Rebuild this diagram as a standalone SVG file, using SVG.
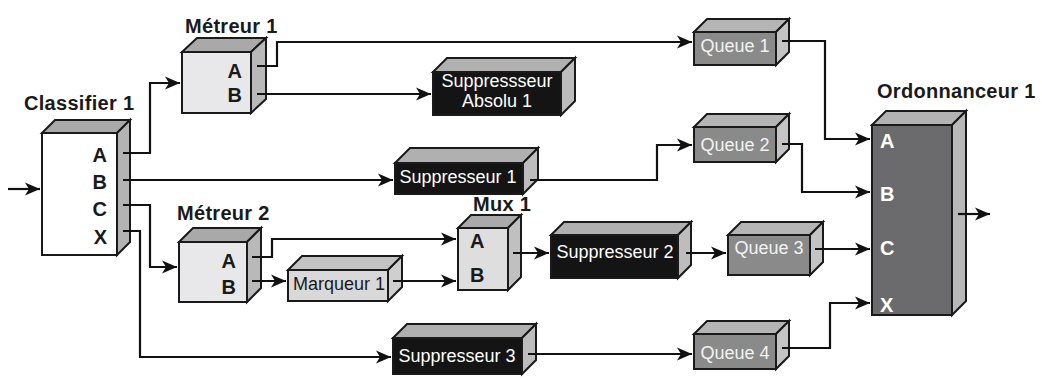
<svg xmlns="http://www.w3.org/2000/svg" width="1042" height="380" viewBox="0 0 1042 380">
<defs>
<marker id="arr" markerUnits="userSpaceOnUse" markerWidth="16" markerHeight="14" refX="15" refY="7" orient="auto">
<path d="M0,0.5 L15,7 L0,13.5 L4,7 z" fill="#111"/>
</marker>
<style>
.f{stroke:#1a1a1a;stroke-width:2;stroke-linejoin:miter}
.c{fill:none;stroke:#111;stroke-width:2.2;marker-end:url(#arr)}
.t{font-family:"Liberation Sans",Arial,sans-serif;font-weight:bold;font-size:20px;fill:#1a1a1a;letter-spacing:0.3px}
.p{font-family:"Liberation Sans",Arial,sans-serif;font-weight:bold;font-size:20px;fill:#1a1a1a}
.pw{font-family:"Liberation Sans",Arial,sans-serif;font-weight:bold;font-size:20px;fill:#ffffff}
.n{font-family:"Liberation Sans",Arial,sans-serif;font-size:18px;text-anchor:middle}
.wt{fill:#ffffff}
.gt{fill:#f2f2f2}
.dt{fill:#1a1a1a}
</style>
</defs>
<rect width="1042" height="380" fill="#ffffff"/>

<g id="classifier1">
<polygon class="f" fill="#ffffff" points="42,133 117,133 117,255 42,255"/>
<polygon class="f" fill="#a9a9a9" points="42,133 55,120 130,120 117,133"/>
<polygon class="f" fill="#b3b3b3" points="117,133 130,120 130,242 117,255"/>
<text class="t" x="24" y="110">Classifier 1</text>
<text class="p" x="107" y="162" text-anchor="end">A</text>
<text class="p" x="107" y="189" text-anchor="end">B</text>
<text class="p" x="107" y="216" text-anchor="end">C</text>
<text class="p" x="107" y="244" text-anchor="end">X</text>
</g>

<g id="metreur1">
<polygon class="f" fill="#e8e8ea" points="182,52 251,52 251,113 182,113"/>
<polygon class="f" fill="#a9a9a9" points="182,52 197,38 266,38 251,52"/>
<polygon class="f" fill="#b9b9b9" points="251,52 266,38 266,99 251,113"/>
<text class="t" x="185" y="33">Métreur 1</text>
<text class="p" x="242" y="78" text-anchor="end">A</text>
<text class="p" x="242" y="102" text-anchor="end">B</text>
</g>

<g id="suppresseurAbsolu1">
<polygon class="f" fill="#141414" points="433,72 561,72 561,115 433,115"/>
<polygon class="f" fill="#b0b0b0" points="433,72 447,58 575,58 561,72"/>
<polygon class="f" fill="#bdbdbd" points="561,72 575,58 575,101 561,115"/>
<text class="n wt" x="497" y="87">Suppressseur</text>
<text class="n wt" x="497" y="107">Absolu 1</text>
</g>

<g id="suppresseur1">
<polygon class="f" fill="#141414" points="395,163 523,163 523,194 395,194"/>
<polygon class="f" fill="#b0b0b0" points="395,163 410,148 538,148 523,163"/>
<polygon class="f" fill="#bdbdbd" points="523,163 538,148 538,179 523,194"/>
<text class="n wt" x="458" y="183">Suppresseur 1</text>
</g>

<g id="metreur2">
<polygon class="f" fill="#e8e8ea" points="179,242 247,242 247,302 179,302"/>
<polygon class="f" fill="#a9a9a9" points="179,242 193,228 261,228 247,242"/>
<polygon class="f" fill="#b9b9b9" points="247,242 261,228 261,288 247,302"/>
<text class="t" x="177" y="220">Métreur 2</text>
<text class="p" x="236" y="268" text-anchor="end">A</text>
<text class="p" x="236" y="294" text-anchor="end">B</text>
</g>

<g id="marqueur1">
<polygon class="f" fill="#d9d9d9" points="288,270 388,270 388,301 288,301"/>
<polygon class="f" fill="#c3c3c3" points="288,270 302,256 402,256 388,270"/>
<polygon class="f" fill="#cfcfcf" points="388,270 402,256 402,287 388,301"/>
<text class="n dt" x="339" y="290">Marqueur 1</text>
</g>

<g id="mux1">
<polygon class="f" fill="#dedede" points="458,228 508,228 508,290 458,290"/>
<polygon class="f" fill="#aaaaaa" points="458,228 471,215 521,215 508,228"/>
<polygon class="f" fill="#c0c0c0" points="508,228 521,215 521,277 508,290"/>
<text class="t" x="473" y="211">Mux 1</text>
<text class="p" x="470" y="248">A</text>
<text class="p" x="470" y="282">B</text>
</g>

<g id="suppresseur2">
<polygon class="f" fill="#141414" points="551,235 678,235 678,278 551,278"/>
<polygon class="f" fill="#b0b0b0" points="551,235 564,222 691,222 678,235"/>
<polygon class="f" fill="#bdbdbd" points="678,235 691,222 691,265 678,278"/>
<text class="n wt" x="615" y="258">Suppresseur 2</text>
</g>

<g id="suppresseur3">
<polygon class="f" fill="#141414" points="393,338 522,338 522,374 393,374"/>
<polygon class="f" fill="#b0b0b0" points="393,338 407,324 536,324 522,338"/>
<polygon class="f" fill="#bdbdbd" points="522,338 536,324 536,360 522,374"/>
<text class="n wt" x="457" y="362">Suppresseur 3</text>
</g>

<g id="queue1">
<polygon class="f" fill="#8a8a8a" points="694,32 776,32 776,65 694,65"/>
<polygon class="f" fill="#b5b5b5" points="694,32 707,19 789,19 776,32"/>
<polygon class="f" fill="#c4c4c4" points="776,32 789,19 789,52 776,65"/>
<text class="n gt" x="735" y="52">Queue 1</text>
</g>

<g id="queue2">
<polygon class="f" fill="#8a8a8a" points="694,127 776,127 776,162 694,162"/>
<polygon class="f" fill="#b5b5b5" points="694,127 707,114 789,114 776,127"/>
<polygon class="f" fill="#c4c4c4" points="776,127 789,114 789,149 776,162"/>
<text class="n gt" x="735" y="151">Queue 2</text>
</g>

<g id="queue3">
<polygon class="f" fill="#8a8a8a" points="728,235 810,235 810,275 728,275"/>
<polygon class="f" fill="#b5b5b5" points="728,235 741,222 823,222 810,235"/>
<polygon class="f" fill="#c4c4c4" points="810,235 823,222 823,262 810,275"/>
<text class="n gt" x="769" y="254">Queue 3</text>
</g>

<g id="queue4">
<polygon class="f" fill="#8a8a8a" points="694,334 776,334 776,369 694,369"/>
<polygon class="f" fill="#b5b5b5" points="694,334 707,321 789,321 776,334"/>
<polygon class="f" fill="#c4c4c4" points="776,334 789,321 789,356 776,369"/>
<text class="n gt" x="735" y="359">Queue 4</text>
</g>

<g id="ordonnanceur1">
<polygon class="f" fill="#6b6b6d" points="872,125 952,125 952,315 872,315"/>
<polygon class="f" fill="#b3b3b3" points="872,125 886,111 966,111 952,125"/>
<polygon class="f" fill="#b8b8b8" points="952,125 966,111 966,301 952,315"/>
<text class="t" x="877" y="98">Ordonnanceur 1</text>
<text class="pw" x="880" y="148">A</text>
<text class="pw" x="880" y="201">B</text>
<text class="pw" x="880" y="255">C</text>
<text class="pw" x="880" y="312">X</text>
</g>

<g id="connectors">
<polyline class="c" points="8,189 40,189"/>
<polyline class="c" points="123,153 150,153 150,83 180,83"/>
<polyline class="c" points="123,180 393,180"/>
<polyline class="c" points="123,205 150,205 150,267 177,267"/>
<polyline class="c" points="123,231 140,231 140,357 391,357"/>
<polyline class="c" points="257,66 277,66 277,42 692,42"/>
<polyline class="c" points="257,94 431,94"/>
<polyline class="c" points="530,180 657,180 657,145 692,145"/>
<polyline class="c" points="782,41 825,41 825,139 870,139"/>
<polyline class="c" points="782,144 802,144 802,192 870,192"/>
<polyline class="c" points="252,257 272,257 272,239 456,239"/>
<polyline class="c" points="252,281 286,281"/>
<polyline class="c" points="393,281 456,281"/>
<polyline class="c" points="513,253 549,253"/>
<polyline class="c" points="686,253 726,253"/>
<polyline class="c" points="815,249 870,249"/>
<polyline class="c" points="528,354 692,354"/>
<polyline class="c" points="782,348 830,348 830,303 870,303"/>
<polyline class="c" points="958,214 990,214"/>
</g>
</svg>
